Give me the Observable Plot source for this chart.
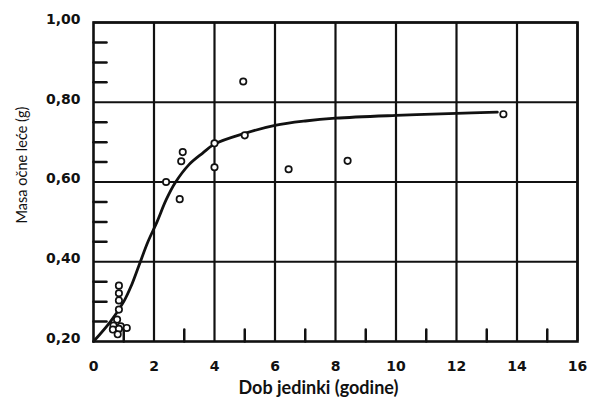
<!DOCTYPE html>
<html>
<head>
<meta charset="utf-8">
<script src="https://cdn.jsdelivr.net/npm/d3@7"></script>
<script src="https://cdn.jsdelivr.net/npm/@observablehq/plot@0.6"></script>
<style>
  html, body { margin: 0; padding: 0; background: #fff; }
</style>
</head>
<body>
<div id="chart"></div>
<script>
// Observations: age (years) and lens mass (g)
const ageObs  = [0.84, 0.84, 0.84, 0.84, 0.78, 0.66, 0.90, 0.64, 0.84, 1.10, 0.80,
                 2.40, 2.85, 2.90, 2.95, 4.00, 4.00, 4.95, 5.00, 6.45, 8.40, 13.55];
const massObs = [0.340, 0.321, 0.303, 0.280, 0.255, 0.240, 0.238, 0.230, 0.232, 0.234, 0.218,
                 0.600, 0.557, 0.652, 0.675, 0.697, 0.637, 0.852, 0.717, 0.632, 0.653, 0.770];

// Fitted growth curve
const ageFit  = [0, 0.56, 1.0, 1.25, 1.5, 1.8, 2.1, 2.4, 2.7, 3.15, 3.6, 4.0, 5.0, 6.0, 7.0, 8.0, 10.0, 12.0, 13.35];
const massFit = [0.20, 0.25, 0.30, 0.34, 0.39, 0.45, 0.50, 0.555, 0.598, 0.643, 0.672, 0.695, 0.722, 0.742, 0.753, 0.760, 0.767, 0.772, 0.775];

const xTicks = [0, 2, 4, 6, 8, 10, 12, 14, 16];
const xMinor = [1, 3, 5, 7, 9, 11, 13, 15];
const yTicks = [0.20, 0.40, 0.60, 0.80, 1.00];
const yMinor = [0.25, 0.30, 0.35, 0.45, 0.50, 0.55, 0.65, 0.70, 0.75, 0.85, 0.90, 0.95];

const xTitle = "Dob jedinki (godine)";
const yTitle = "Masa očne leće (g)";

const obs = ageObs.map((a, i) => ({age: a, mass: massObs[i]}));
const fit = ageFit.map((a, i) => ({age: a, mass: massFit[i]}));

const tickFont = "DejaVu Sans, sans-serif";
const titleFont = "Lato, 'Open Sans', sans-serif";

// straight tick shape for inward minor ticks
const tickShape = {draw(context, l) { context.moveTo(0, 0); context.lineTo(0, -l); }};

const chart = Plot.plot({
  width: 593,
  height: 403,
  marginLeft: 93,
  marginRight: 16,
  marginTop: 22,
  marginBottom: 62,
  style: {fontFamily: tickFont, background: "#fff", color: "#111"},
  x: {domain: [0, 16], label: null},
  y: {domain: [0.2, 1.0], label: null},
  marks: [
    Plot.gridX(xTicks.slice(1), {stroke: "#111", strokeOpacity: 1, strokeWidth: 2.2}),
    Plot.gridY(yTicks.slice(1), {stroke: "#111", strokeOpacity: 1, strokeWidth: 2.2}),
    Plot.vector(yMinor, {y: d => d, frameAnchor: "left", rotate: 90, length: 13, anchor: "start",
      shape: tickShape, stroke: "#111", strokeWidth: 2.5}),
    Plot.vector(xMinor, {x: d => d, frameAnchor: "bottom", rotate: 0, length: 12, anchor: "start",
      shape: tickShape, stroke: "#111", strokeWidth: 2.5}),
    Plot.frame({stroke: "#111", strokeWidth: 2.6}),
    Plot.axisY(yTicks, {anchor: "left", tickSize: 0, tickPadding: 13, dy: -3,
      tickFormat: d => d.toFixed(2).replace(".", ","),
      fontSize: 14, fontWeight: "bold", fill: "#111", label: null}),
    Plot.axisX(xTicks, {anchor: "bottom", tickSize: 0, tickPadding: 20,
      tickFormat: d => String(d),
      fontSize: 14, fontWeight: "bold", fill: "#111", label: null}),
    Plot.line(fit, {x: "age", y: "mass", curve: "catmull-rom", stroke: "#111", strokeWidth: 2.8}),
    Plot.dot(obs, {x: "age", y: "mass", r: 3.2, stroke: "#111", strokeWidth: 1.7, fill: "#fff"}),
    Plot.text([xTitle], {frameAnchor: "bottom", textAnchor: "middle", lineAnchor: "middle", dx: -17, dy: 47, text: d => d,
      fontFamily: titleFont, fontSize: 18, fontWeight: "bold", fill: "#111"}),
    Plot.text([yTitle], {frameAnchor: "left", textAnchor: "middle", lineAnchor: "middle", rotate: -90, dx: -71, dy: -17, text: d => d,
      fontFamily: titleFont, fontSize: 14.5, fill: "#111"})
  ]
});
document.getElementById("chart").appendChild(chart);
</script>
</body>
</html>
